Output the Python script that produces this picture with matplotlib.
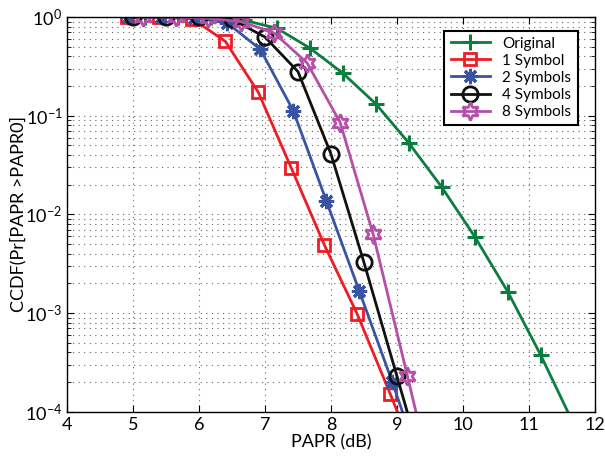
import numpy as np
import matplotlib
matplotlib.use('Agg')
import matplotlib.pyplot as plt
from matplotlib.ticker import LogLocator, NullFormatter

plt.rcParams['font.family'] = ['Lato', 'DejaVu Sans']
plt.rcParams['mathtext.fontset'] = 'custom'
plt.rcParams['mathtext.rm'] = 'Lato'

x_orig = [5.18, 5.68, 6.18, 6.68, 7.18, 7.68, 8.18, 8.68, 9.18, 9.68, 10.18, 10.68, 11.18, 11.68]
y_orig = [1.0, 1.0, 0.99, 0.93, 0.77, 0.485, 0.27, 0.132, 0.053, 0.0189, 5.95e-3, 1.65e-3, 3.76e-4, 7.5e-5]

x_1sym = [4.9, 5.4, 5.9, 6.4, 6.9, 7.4, 7.9, 8.4, 8.9, 9.4]
y_1sym = [1.0, 1.0, 0.96, 0.566, 0.172, 0.0294, 4.9e-3, 9.7e-4, 1.51e-4, 2.2e-5]

x_2sym = [4.93, 5.43, 5.93, 6.43, 6.93, 7.43, 7.93, 8.43, 8.93, 9.43]
y_2sym = [1.0, 1.0, 0.98, 0.87, 0.47, 0.112, 0.0137, 1.67e-3, 2.0e-4, 2.1e-5]

x_4sym = [5.0, 5.5, 6.0, 6.5, 7.0, 7.5, 8.0, 8.5, 9.0, 9.5]
y_4sym = [1.0, 1.0, 0.99, 0.95, 0.627, 0.28, 0.041, 3.27e-3, 2.3e-4, 1.6e-5]

x_8sym = [5.15, 5.65, 6.14, 6.64, 7.14, 7.64, 8.14, 8.64, 9.16, 9.66]
y_8sym = [1.0, 1.0, 0.97, 0.90, 0.688, 0.342, 0.0853, 6.3e-3, 2.3e-4, 9e-6]

fig = plt.figure(figsize=(6.05, 4.61), dpi=100)
ax = fig.add_axes([0.111, 0.107, 0.872, 0.856])

star6 = (6, 1, 0)
ax.semilogy(x_orig, y_orig, '-', color='#0b7d3e', lw=2, marker='+', ms=12, mew=2.2, label='Original')
ax.semilogy(x_1sym, y_1sym, '-', color='#ee1c24', lw=2, marker='s', ms=9, mew=2, mfc='none', label='1 Symbol')
ax.semilogy(x_2sym, y_2sym, '-', color='#3a54a4', lw=2, marker=(8, 2, 0), ms=11, mew=2.2, label='2 Symbols')
ax.semilogy(x_4sym, y_4sym, '-', color='#111111', lw=2, marker='o', ms=11, mew=2, mfc='none', label='4 Symbols')
ax.semilogy(x_8sym, y_8sym, '-', color='#b54fa7', lw=2, marker=star6, ms=13, mew=2, mfc='none', label='8 Symbols')

ax.set_xlim(4, 12)
ax.set_ylim(1e-4, 1)
ax.set_xticks(range(4, 13))
ax.yaxis.set_major_locator(LogLocator(base=10, numticks=10))
ax.yaxis.set_minor_locator(LogLocator(base=10, subs=np.arange(2, 10), numticks=20))
ax.yaxis.set_minor_formatter(NullFormatter())

ax.grid(True, which='major', ls=(0, (1, 4)), color='#666666', lw=0.8)
ax.grid(True, which='minor', axis='y', ls=(0, (1, 4)), color='#666666', lw=0.8)
ax.tick_params(which='both', direction='in', top=True, right=True, labelsize=13)
ax.tick_params(which='major', length=5)
ax.tick_params(which='minor', length=3)
for s in ax.spines.values():
    s.set_linewidth(1.0)

ax.set_xlabel('PAPR (dB)', fontsize=13, labelpad=1)
ax.set_ylabel('CCDF(Pr[PAPR >PAPR0]', fontsize=13, labelpad=-1)

leg = ax.legend(loc='upper right', fontsize=11, fancybox=False, framealpha=1,
                edgecolor='black', borderpad=0.4, handlelength=2.6, labelspacing=0.2,
                bbox_to_anchor=(0.982, 0.985))
leg.get_frame().set_linewidth(1.5)

fig.savefig('out.png', dpi=100)
